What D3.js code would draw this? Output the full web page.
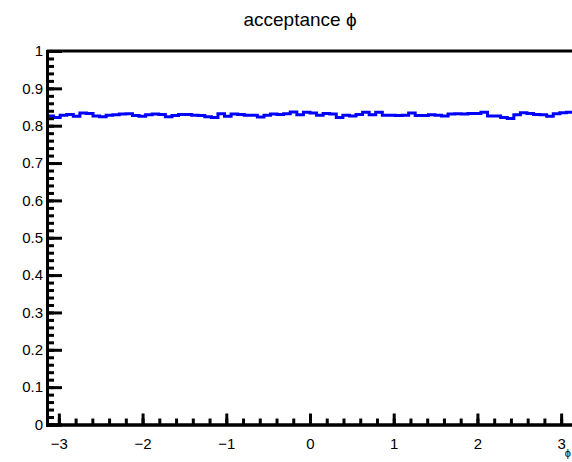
<!DOCTYPE html>
<html>
<head>
<meta charset="utf-8">
<script src="https://cdn.jsdelivr.net/npm/d3@7"></script>
<style>
  body { margin: 0; background: #fff; }
  text { font-family: "Liberation Sans", Arial, sans-serif; }
</style>
</head>
<body>
<div id="chart"></div>
<script>
// histogram: acceptance vs phi, 80 bins from -pi to pi
var phiMin = -Math.PI, phiMax = Math.PI;
var acceptance = [
  0.826, 0.822, 0.828, 0.830, 0.825, 0.834, 0.833, 0.826, 0.824, 0.828,
  0.829, 0.831, 0.832, 0.827, 0.825, 0.829, 0.831, 0.830, 0.824, 0.827,
  0.830, 0.830, 0.828, 0.827, 0.824, 0.822, 0.832, 0.825, 0.831, 0.830,
  0.828, 0.828, 0.823, 0.828, 0.831, 0.830, 0.832, 0.837, 0.829, 0.836,
  0.834, 0.828, 0.833, 0.831, 0.822, 0.828, 0.826, 0.830, 0.836, 0.829,
  0.836, 0.828, 0.828, 0.827, 0.828, 0.834, 0.827, 0.827, 0.829, 0.828,
  0.826, 0.831, 0.832, 0.831, 0.833, 0.833, 0.836, 0.826, 0.826, 0.822,
  0.819, 0.829, 0.835, 0.833, 0.830, 0.829, 0.825, 0.832, 0.835, 0.836
];
var xMajor = [-3, -2, -1, 0, 1, 2, 3];
var yMajor = [0, 0.1, 0.2, 0.3, 0.4, 0.5, 0.6, 0.7, 0.8, 0.9, 1];

var width = 572, height = 462;
var margin = {top: 51, right: -1, bottom: 37.5, left: 47};

var svg = d3.select("#chart").append("svg")
  .attr("width", width)
  .attr("height", height);

var x = d3.scaleLinear().domain([phiMin, phiMax]).range([margin.left, width - margin.right]);
var y = d3.scaleLinear().domain([0, 1]).range([height - margin.bottom, margin.top]);

// minor ticks
var xMinor = d3.range(-3.2, 3.21, 0.2).filter(function(v) { return v > phiMin && v < phiMax; });
var yMinor = d3.range(0, 1.001, 0.02);

// step line from bins
var nb = acceptance.length, bw = (phiMax - phiMin) / nb;
var pts = acceptance.map(function(v, i) { return [phiMin + i * bw, v]; });
pts.push([phiMax, acceptance[nb - 1]]);

var line = d3.line()
  .x(function(d) { return x(d[0]); })
  .y(function(d) { return y(d[1]); })
  .curve(d3.curveStepAfter);

svg.append("path")
  .datum(pts)
  .attr("d", line)
  .attr("fill", "none")
  .attr("stroke", "#0000ff")
  .attr("stroke-width", 3);

// top frame line
svg.append("line")
  .attr("x1", x(phiMin)).attr("x2", width)
  .attr("y1", y(1)).attr("y2", y(1))
  .attr("stroke", "#000").attr("stroke-width", 3);

// x axis
var gx = svg.append("g").attr("transform", "translate(0," + y(0) + ")");
gx.call(d3.axisBottom(x).tickValues(xMinor).tickSize(-6).tickFormat(""));
gx.append("g").call(d3.axisBottom(x).tickValues(xMajor).tickSize(-11).tickPadding(14)
  .tickFormat(function(d) { return d < 0 ? "\u2212" + Math.abs(d) : d; }));
gx.selectAll("path.domain").attr("stroke-width", 3).attr("stroke", "#000");
gx.selectAll("line").attr("stroke-width", 3).attr("stroke", "#000");
gx.selectAll("text").attr("font-size", 15).attr("fill", "#000");

// y axis
var gy = svg.append("g").attr("transform", "translate(" + x(phiMin) + ",0)");
gy.call(d3.axisLeft(y).tickValues(yMinor).tickSize(-7).tickFormat(""));
gy.append("g").call(d3.axisLeft(y).tickValues(yMajor).tickSize(-15).tickPadding(4)
  .tickFormat(function(d) { return d3.format("~g")(d); }));
gy.selectAll("path.domain").attr("stroke-width", 3).attr("stroke", "#000");
gy.selectAll("line").attr("stroke-width", 3).attr("stroke", "#000");
gy.selectAll("text").attr("font-size", 15).attr("fill", "#000");

// title and axis title
svg.append("text")
  .attr("x", 300).attr("y", 26)
  .attr("text-anchor", "middle")
  .attr("font-size", 19)
  .attr("fill", "#000")
  .text("acceptance \u03d5");

svg.append("text")
  .attr("x", 571).attr("y", 457)
  .attr("text-anchor", "end")
  .attr("font-size", 11)
  .attr("fill", "#000")
  .text("\u03d5");
</script>
</body>
</html>
